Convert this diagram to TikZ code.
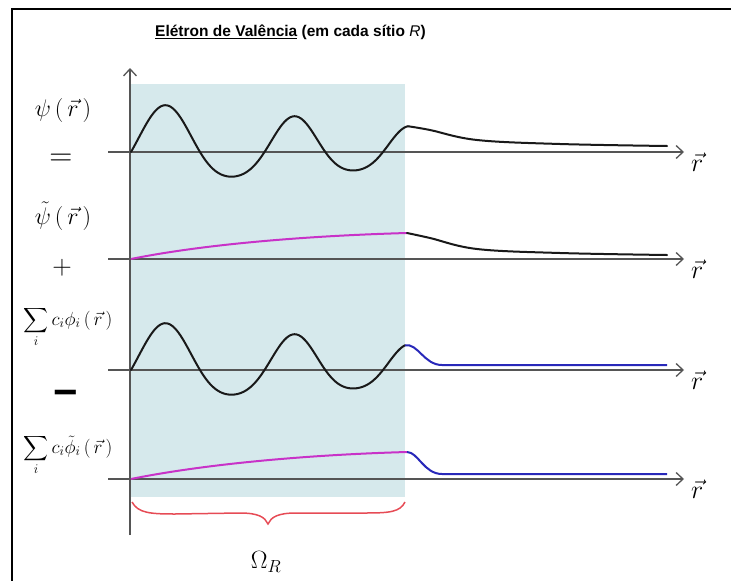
\RequirePackage{fix-cm}
\documentclass[tikz,border=0pt]{standalone}
\usepackage{amsmath}
\usepackage{fontspec}
\newfontfamily\titlefont{Liberation Sans}
\usetikzlibrary{arrows.meta}
\definecolor{shadecol}{RGB}{214,233,236}
\definecolor{axisgray}{RGB}{85,85,85}
\definecolor{curvemag}{RGB}{200,50,200}
\definecolor{curveblue}{RGB}{40,40,185}
\definecolor{bracered}{RGB}{230,75,85}
\tikzset{
  axis/.style={draw=axisgray, line width=1.3pt, -{Straight Barb[length=7pt,width=13pt,line width=1.3pt]}},
  wave/.style={line width=2pt, draw=black!90, line join=round, line cap=round},
  magline/.style={line width=2pt, draw=curvemag},
  blueline/.style={line width=2pt, draw=curveblue},
  lbl/.style={inner sep=0pt, font=\fontsize{24}{28}\selectfont},
  rlbl/.style={inner sep=0pt, font=\fontsize{26}{30}\selectfont, anchor=west},
  declare function={
    wth(\u)=2.515*(\u-131)+0.001358*(\u-131)*(\u-131);
    wam(\u)=37.5-0.0682*(\u-165);
    wy(\u)=-wam(\u)*(sin(wth(\u))+0.25*sin(wth(\u))*sin(wth(\u)));
  },
}
\begin{document}
\begin{tikzpicture}[x=1pt,y=-1pt]
\useasboundingbox (0,0) rectangle (731,581);
% frame
\draw[line width=2pt] (731,9) -- (12,9) -- (12,581);
% title
\node[inner sep=0pt, anchor=west, font=\titlefont\bfseries\fontsize{15.5}{18}\selectfont] (title) at (155,32)
  {\underline{Elétron de Valência} (em cada sítio \textit{\mdseries R})};
% shaded region
\fill[shadecol] (131,84) rectangle (405,497);
% vertical axis
\coordinate (vb) at (130,535);
\coordinate (vt) at (130,68);
\draw[axis] (vb) -- (vt);
% horizontal axes
\foreach \n/\y in {1/152,2/259,3/370,4/479}{
  \coordinate (s\n) at (108,\y);
  \coordinate (e\n) at (684,\y);
  \draw[axis] (s\n) -- (e\n);
  \node[rlbl] (r\n) at (691,\y+10) {$\vec r$};
}
% curve 1
\begin{scope}[shift={(0,152)}]
\draw[wave] plot[domain=131:408, samples=140, smooth] (\x,{wy(\x)}) coordinate (p1);
\draw[wave] plot[smooth, tension=0.6] coordinates {(408,{wy(408)}) (430,-22) (477,-12) (560,-8) (667,-6)};
\end{scope}
% curve 2
\begin{scope}[shift={(0,259)}]
\draw[magline] (131,0) .. controls (200,-14) and (300,-23) .. (407,-26);
\draw[wave] plot[smooth, tension=0.6] coordinates {(407,-26) (430,-21) (477,-10) (560,-6) (667,-4)};
\end{scope}
% curve 3
\begin{scope}[shift={(0,370)}]
\draw[wave] plot[domain=131:405, samples=140, smooth] (\x,{wy(\x)});
\draw[blueline] (405,{wy(405)}) .. controls (418,-27) and (424,-5) .. (442,-5) -- (667,-5);
\end{scope}
% curve 4
\begin{scope}[shift={(0,479)}]
\draw[magline] (131,0) .. controls (200,-14) and (300,-24) .. (407,-27);
\draw[blueline] (407,-27) .. controls (418,-27) and (424,-5) .. (442,-5) -- (667,-5);
\end{scope}
% left labels
\node[lbl] (psi) at (63,110) {$\psi\,(\,\vec r\,)$};
\node[lbl, font=\fontsize{32}{36}\selectfont] (eq) at (61,160) {$=$};
\node[lbl] (psit) at (63,216) {$\tilde\psi\,(\,\vec r\,)$};
\node[lbl, font=\fontsize{27}{30}\selectfont] (plus) at (62,268) {$+$};
\node[lbl, font=\fontsize{19}{23}\selectfont] (sum1) at (68,327) {$\displaystyle\sum_i c_i\phi_i\,(\,\vec r\,)$};
\node[inner sep=0pt, anchor=north, font=\titlefont\bfseries\fontsize{42}{46}\selectfont] (minus) at (66,390) {−};
\node[lbl, font=\fontsize{19}{23}\selectfont] (sum2) at (68,455) {$\displaystyle\sum_i c_i\tilde\phi_i\,(\,\vec r\,)$};
% brace
\coordinate (bl) at (132,502);
\coordinate (bt) at (268,524);
\coordinate (br) at (405,502);
\draw[bracered, line width=1.5pt] (bl) .. controls (138,513) and (150,514) .. (175,514) -- (240,513) .. controls (258,513) and (265,517) .. (bt) .. controls (271,517) and (278,513) .. (296,513) -- (365,513) .. controls (390,513) and (400,512) .. (br);
\node[lbl, font=\fontsize{25}{28}\selectfont] (omega) at (266,562) {$\Omega_R$};
\end{tikzpicture}
\end{document}
